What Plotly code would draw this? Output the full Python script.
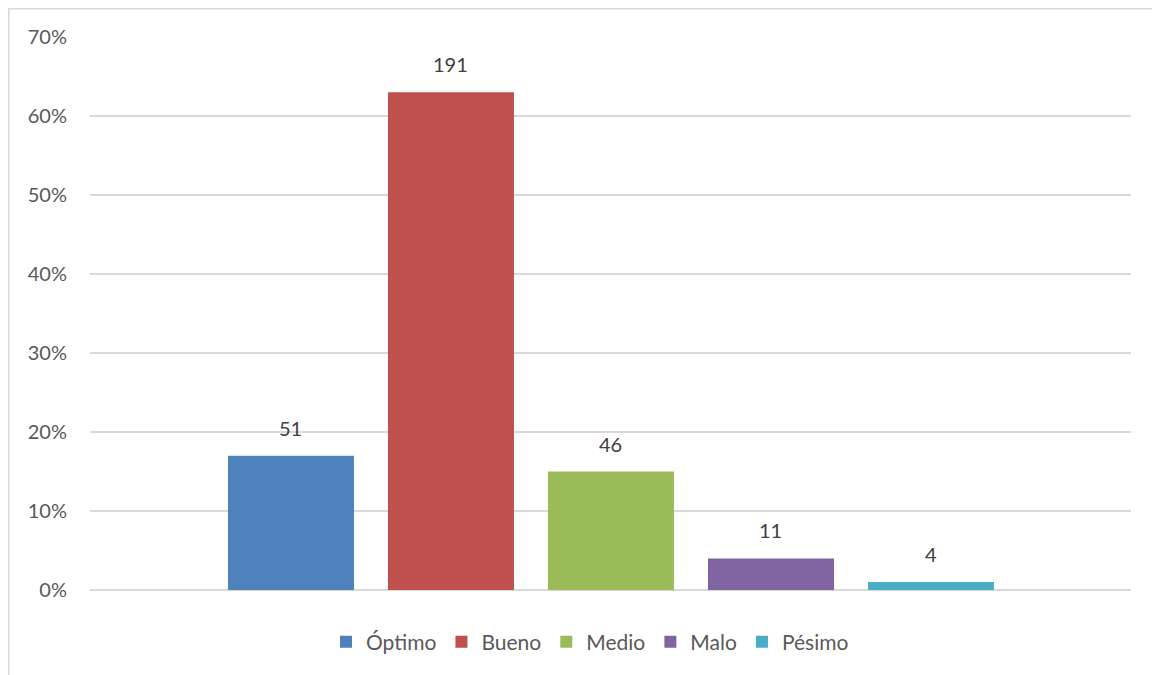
import plotly.graph_objects as go

categories = ["Óptimo", "Bueno", "Medio", "Malo", "Pésimo"]
counts = [51, 191, 46, 11, 4]
percents = [0.17, 0.63, 0.15, 0.04, 0.01]
colors = ["#4F81BD", "#C0504D", "#9BBB59", "#8064A2", "#4BACC6"]
y_ticks = [0, 0.1, 0.2, 0.3, 0.4, 0.5, 0.6, 0.7]

FONT = "Lato, Open Sans, sans-serif"

fig = go.Figure()
for cat, cnt, pct, col in zip(categories, counts, percents, colors):
    fig.add_trace(go.Bar(
        x=[cat], y=[pct], name=cat, width=0.7875,
        marker=dict(color=col, line=dict(width=0)),
        hoverinfo="skip",
    ))
    fig.add_annotation(
        x=cat, y=pct, text=str(cnt), showarrow=False,
        yanchor="bottom", yshift=14,
        font=dict(family=FONT, size=20, color="#404040"),
    )

# page has an 8px body margin, so the figure is 8px smaller and offset
OFF = 8
W, H = 1160 - OFF, 675 - OFF
L, T = 90 - OFF, 37 - OFF
R = W - (1131 - OFF)
B = H - (590 - OFF)
pw, ph = W - L - R, H - T - B

def px_x(p):
    return (p - OFF - L) / pw

def px_y(p):
    return (H - B - (p - OFF)) / ph

fig.add_shape(type="rect", xref="paper", yref="paper",
              x0=px_x(8.8), x1=px_x(1158.5), y0=px_y(690), y1=px_y(8.8),
              line=dict(color="#D9D9D9", width=1.5), fillcolor="rgba(0,0,0,0)",
              layer="below")

fig.update_layout(
    width=W, height=H,
    margin=dict(l=L, r=R, t=T, b=B, pad=0),
    paper_bgcolor="white", plot_bgcolor="white",
    barmode="overlay",
    showlegend=True,
    legend=dict(orientation="h", x=px_x(590), xanchor="center", y=px_y(642), yanchor="middle",
                font=dict(family=FONT, size=21, color="#595959"),
                itemwidth=30, tracegroupgap=0, traceorder="normal"),
    font=dict(family=FONT, size=20, color="#595959"),
    xaxis=dict(range=[-1.256, 5.25], showticklabels=False, showgrid=False,
               zeroline=False, showline=False, ticks="", fixedrange=True),
    yaxis=dict(range=[0, 0.70], tickvals=y_ticks, tickformat=".0%",
               showgrid=True, gridcolor="#D9D9D9", gridwidth=1.5,
               zeroline=True, zerolinecolor="#D9D9D9", zerolinewidth=1.5,
               showline=False, ticks="", ticklabelstandoff=22,
               tickfont=dict(family=FONT, size=20, color="#595959")),
)

fig.write_html("out.html")
